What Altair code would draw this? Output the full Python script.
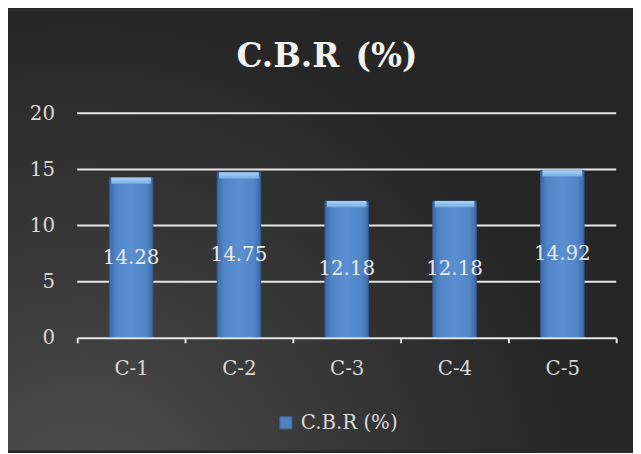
import altair as alt
import pandas as pd

categories = ["C-1", "C-2", "C-3", "C-4", "C-5"]
cbr_values = [14.28, 14.75, 12.18, 12.18, 14.92]
y_ticks = [0, 5, 10, 15, 20]
grid_values = [5, 10, 15, 20]
series_name = "C.B.R (%)"

df = pd.DataFrame({"cat": categories, "val": cbr_values, "series": [series_name] * len(categories)})
df["half"] = df["val"] / 2
df["top_bevel"] = df["val"] - 0.55
df["label"] = df["val"].map(lambda v: f"{v:.2f}")
grid_df = pd.DataFrame({"g": grid_values})
bg_df = pd.DataFrame({"k": [0]})

FONT = "DejaVu Serif"
TXT = "#d9d9d9"
FS = 20

# background panel (decoration only) with a soft light area at lower left
bg_grad = alt.RadialGradient(gradient="radial", x1=0.12, y1=0.95, r1=0.0,
                             x2=0.12, y2=0.95, r2=0.8,
                             stops=[alt.GradientStop(offset=0, color="#505050"),
                                    alt.GradientStop(offset=0.45, color="#3b3b3b"),
                                    alt.GradientStop(offset=1, color="#262626")])
background = alt.Chart(bg_df).mark_rect(fill=bg_grad).encode(
    x=alt.value(-70), x2=alt.value(562), y=alt.value(-104), y2=alt.value(341)
)

x_enc = alt.X("cat:N", sort=categories, title=None,
              scale=alt.Scale(paddingInner=0, paddingOuter=0),
              axis=alt.Axis(labelAngle=0, labelFont=FONT, labelFontSize=FS, labelColor=TXT,
                            domainColor="#e6e6e6", domainWidth=2, tickColor="#e6e6e6",
                            tickWidth=2, tickSize=5, tickBand="extent", labelPadding=16,
                            grid=False, zindex=1))

y_scale = alt.Scale(domain=[0, 20])

grid = alt.Chart(grid_df).mark_rule(color="#e6e6e6", strokeWidth=2).encode(
    y=alt.Y("g:Q", scale=y_scale)
)

bar_grad = alt.LinearGradient(gradient="linear", x1=0, x2=1, y1=0, y2=0,
                              stops=[alt.GradientStop(offset=0, color="#3b6aa6"),
                                     alt.GradientStop(offset=0.15, color="#4f84c6"),
                                     alt.GradientStop(offset=0.5, color="#5b8fd1"),
                                     alt.GradientStop(offset=0.85, color="#4f84c6"),
                                     alt.GradientStop(offset=1, color="#3b6aa6")])

bevel_grad = alt.LinearGradient(gradient="linear", x1=0, x2=0, y1=0, y2=1,
                                stops=[alt.GradientStop(offset=0, color="#a9d2f6"),
                                       alt.GradientStop(offset=1, color="#78aee6")])

bars = alt.Chart(df).mark_bar(size=44, fill=bar_grad, stroke="#34598c", strokeWidth=1).encode(
    x=x_enc,
    y=alt.Y("val:Q", title=None, scale=y_scale,
            axis=alt.Axis(values=y_ticks, labelFont=FONT, labelFontSize=FS, labelColor=TXT,
                          domain=False, ticks=False, labelPadding=23, grid=False, zindex=1)),
    color=alt.Color("series:N", title=None,
                    scale=alt.Scale(range=["#4f81bd"]),
                    legend=alt.Legend(orient="none", legendX=201, legendY=303,
                                      symbolType="square", symbolSize=150,
                                      symbolFillColor="#4f81bd", symbolStrokeColor="#3a639a",
                                      symbolStrokeWidth=1, symbolOpacity=1,
                                      labelOffset=5, labelFont=FONT,
                                      labelFontSize=FS, labelColor=TXT, zindex=1)),
)

bevel = alt.Chart(df).mark_bar(size=40, fill=bevel_grad).encode(
    x=alt.X("cat:N", sort=categories),
    y="val:Q",
    y2="top_bevel:Q",
)

labels = alt.Chart(df).mark_text(font=FONT, fontSize=FS, color="#e8e8e8", baseline="middle").encode(
    x=alt.X("cat:N", sort=categories),
    y="half:Q",
    text="label:N",
)

chart = alt.layer(background, grid, bars, bevel, labels).properties(
    width=545, height=227,
    padding={"left": 70, "top": 104, "right": 17, "bottom": 114},
    autosize=alt.AutoSizeParams(type="none"),
    background="#282828",
    title=alt.TitleParams("C.B.R\u2002(%)", font=FONT, fontSize=33, fontWeight="bold",
                          color="#f2f2f2", anchor="middle", dx=-20, offset=-90,
                          baseline="alphabetic", zindex=1),
).configure(font=FONT).configure_view(stroke=None)

chart.save("out.html", embed_options={"renderer": "svg", "actions": False})
